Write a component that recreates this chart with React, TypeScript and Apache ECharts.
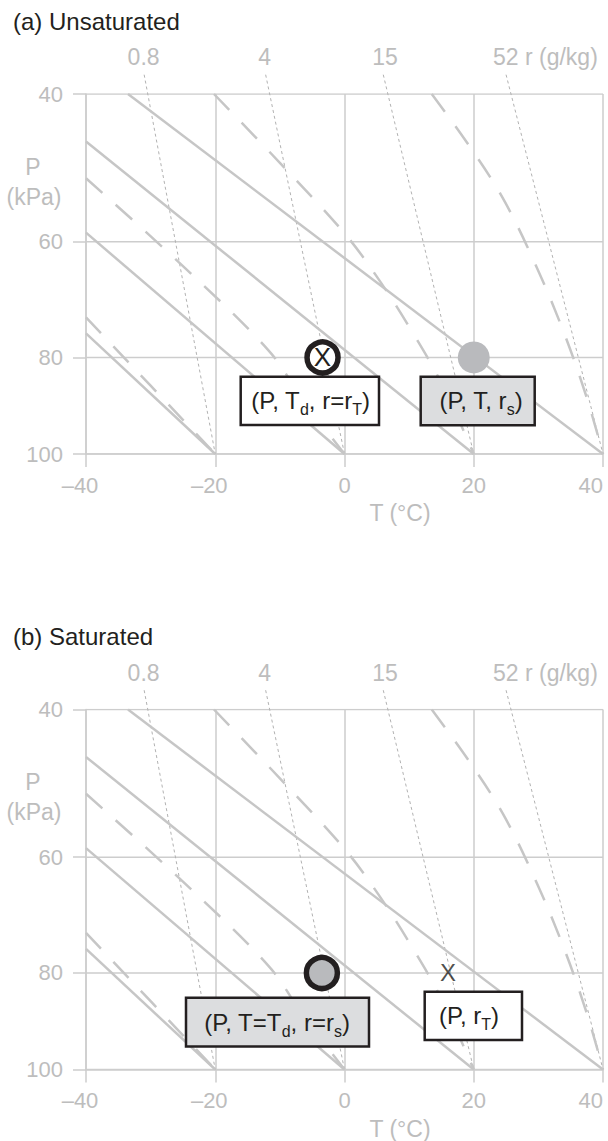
import React, { useEffect, useRef } from 'react';
import * as echarts from 'echarts';

// ---- data ----
const KAPPA = 0.286; // Stüve-type pressure axis: y ~ P^(R/cp)
const T_TICKS = [-40, -20, 0, 20, 40];
const P_TICKS = [40, 60, 80, 100];
const R_LABELS = ['0.8', '4', '15', '52'];

// dry adiabats (solid), points as [T °C, P kPa]
const DRY_ADIABATS: number[][][] = [
  [[-40, 75.5], [-20, 100]],
  [[-40, 58.6], [0, 100]],
  [[-40, 45.8], [20, 100]],
  [[-33.5, 40], [40, 100]],
];
// moist adiabats (dashed)
const MOIST_ADIABATS: number[][][] = [
  [[-40, 72.6], [-20, 100]],
  [[-40, 50.7], [-25.7, 63.2], [-11.8, 78.6], [-6.4, 88.4], [0, 100]],
  [[-20.2, 40], [-10, 48.6], [0, 58.7], [5, 65.6], [10, 74.3], [15, 85.0], [20, 100]],
  [[13.5, 40], [19, 46], [24.5, 53.5], [29.5, 63.5], [34, 75.5], [37.5, 88], [40, 100]],
];
// saturation mixing-ratio lines (dotted)
const ISOHUMES: number[][][] = [
  [[-31.0, 37.8], [-20, 100]],
  [[-12.2, 37.8], [0, 100]],
  [[6.0, 37.8], [20, 100]],
  [[25.0, 37.8], [40, 100]],
];
// markers
const A_DEWPOINT = [-3.4, 80];
const A_STATE = [20, 80];
const B_STATE = [-3.5, 80];
const B_TOTAL = [16, 80];

// ---- styles ----
const FONT = '"Liberation Sans", Arial, Helvetica, sans-serif';
const GREY_TEXT = '#bdbdbd';
const GRID_COLOR = '#cdcdcd';
const LINE_COLOR = '#c6c6c6';
const DOT_COLOR = '#b2b2b2';
const INK = '#231f20';
const FILL_GREY = '#b9babd';
const BOX_GREY = '#dcdddf';
const PANEL_TOPS = [94, 709.5];
const PANEL_SHIFT = 615.5;

const pY = (p: number) => Math.pow(p, KAPPA);

function lineSeries(gi: number, pts: number[][], style: any, extra: any = {}) {
  return {
    type: 'line',
    xAxisIndex: gi,
    yAxisIndex: gi,
    data: pts.map(([t, p]) => [t, pY(p)]),
    symbol: 'none',
    silent: true,
    lineStyle: style,
    ...extra,
  };
}

function panelSeries(gi: number) {
  const s: any[] = [];
  P_TICKS.forEach((p) => {
    s.push(lineSeries(gi, [[T_TICKS[0], p], [T_TICKS[T_TICKS.length - 1], p]], { color: GRID_COLOR, width: 1.5 }, { z: 1 }));
  });
  ISOHUMES.forEach((pts) => {
    s.push(lineSeries(gi, pts, { color: DOT_COLOR, width: 1, type: [3, 3] }, { clip: false, z: 2 }));
  });
  DRY_ADIABATS.forEach((pts) => {
    s.push(lineSeries(gi, pts, { color: LINE_COLOR, width: 2.5 }, { z: 3 }));
  });
  MOIST_ADIABATS.forEach((pts) => {
    s.push(lineSeries(gi, pts, { color: LINE_COLOR, width: 2.5, type: [22, 18] }, { z: 3, smooth: 0.35 }));
  });
  const xLabel = (size: number) => ({
    show: true, position: 'inside', formatter: 'X', fontSize: size, fontFamily: FONT, color: INK,
  });
  if (gi === 0) {
    s.push({
      type: 'scatter', xAxisIndex: gi, yAxisIndex: gi, z: 10, silent: true,
      data: [[A_STATE[0], pY(A_STATE[1])]], symbolSize: 32,
      itemStyle: { color: FILL_GREY, opacity: 1 },
    });
    s.push({
      type: 'scatter', xAxisIndex: gi, yAxisIndex: gi, z: 10, silent: true,
      data: [[A_DEWPOINT[0], pY(A_DEWPOINT[1])]], symbolSize: 31,
      itemStyle: { color: '#ffffff', borderColor: INK, borderWidth: 5.5, opacity: 1 },
      label: xLabel(26),
    });
  } else {
    s.push({
      type: 'scatter', xAxisIndex: gi, yAxisIndex: gi, z: 10, silent: true,
      data: [[B_STATE[0], pY(B_STATE[1])]], symbolSize: 31,
      itemStyle: { color: FILL_GREY, borderColor: INK, borderWidth: 5.5, opacity: 1 },
    });
    s.push({
      type: 'scatter', xAxisIndex: gi, yAxisIndex: gi, z: 10, silent: true,
      data: [[B_TOTAL[0], pY(B_TOTAL[1])]], symbolSize: 2,
      itemStyle: { color: 'rgba(0,0,0,0)' },
      label: xLabel(24),
    });
  }
  return s;
}

const greyText = (text: string, x: number, y: number, align = 'center', size = 23) => ({
  type: 'text', x, y, z: 100, silent: true,
  style: { text, fontSize: size, fontFamily: FONT, fill: GREY_TEXT, align, verticalAlign: 'middle' },
});

const subRich = {
  s: { fontSize: 16, fontFamily: FONT, fill: INK, verticalAlign: 'bottom', lineHeight: 18 },
};

function box(x: number, y: number, w: number, h: number, fill: string, text: string, tx: number) {
  return [
    {
      type: 'rect', z: 100, silent: true,
      shape: { x, y, width: w, height: h },
      style: { fill, stroke: INK, lineWidth: 2.5 },
    },
    {
      type: 'text', z: 101, silent: true, x: tx, y: y + h / 2,
      style: {
        text, fontSize: 24, fontFamily: FONT, fill: INK, align: 'center', verticalAlign: 'middle',
        lineHeight: 34, rich: subRich,
      },
    },
  ];
}

function panelGraphics(gi: number) {
  const dy = gi * PANEL_SHIFT;
  const g: any[] = [];
  g.push({
    type: 'text', x: 13, y: 21 + dy, z: 100, silent: true,
    style: { text: gi === 0 ? '(a) Unsaturated' : '(b) Saturated', fontSize: 24, fontFamily: FONT, fill: INK, align: 'left', verticalAlign: 'middle' },
  });
  g.push(greyText('P', 33, 166.5 + dy));
  g.push(greyText('(kPa)', 34, 196.5 + dy));
  g.push(greyText('T (°C)', 400, 513 + dy));
  g.push(greyText(R_LABELS[0], 143.6, 57 + dy));
  g.push(greyText(R_LABELS[1], 264.6, 57 + dy));
  g.push(greyText(R_LABELS[2], 385, 57 + dy));
  g.push(greyText(R_LABELS[3] + ' r (g/kg)', 493, 57 + dy, 'left'));
  if (gi === 0) {
    g.push(...box(240.7, 376.7, 138.3, 48.3, '#ffffff', '(P, T{s|d}, r=r{s|T})', 310.5));
    g.push(...box(420.7, 376.7, 114, 48.5, BOX_GREY, '(P, T, r{s|s})', 481));
  } else {
    g.push(...box(186, 997.7, 183, 48.8, BOX_GREY, '(P, T=T{s|d}, r=r{s|s})', 277));
    g.push(...box(424.7, 991.7, 97.3, 48.3, '#ffffff', '(P, r{s|T})', 469));
  }
  return g;
}

function buildOption() {
  const axisLineStyle = { color: GRID_COLOR, width: 1.5 };
  const labelBase = { fontSize: 22, fontFamily: FONT, color: GREY_TEXT };
  return {
    animation: false,
    backgroundColor: '#ffffff',
    grid: PANEL_TOPS.map((top) => ({ left: 86, top, width: 517, height: 360, containLabel: false })),
    xAxis: [0, 1].map((i) => ({
      type: 'value', gridIndex: i,
      min: T_TICKS[0], max: T_TICKS[T_TICKS.length - 1], interval: 20,
      axisLine: { show: true, onZero: false, lineStyle: axisLineStyle },
      axisTick: { show: true, length: 13, lineStyle: axisLineStyle },
      splitLine: { show: true, lineStyle: axisLineStyle },
      axisLabel: {
        ...labelBase, margin: 20, alignMaxLabel: 'right',
        formatter: (v: number) => (v < 0 ? `{n|–${-v}}` : String(v)),
        rich: { n: { ...labelBase, padding: [0, 12, 0, 0] } },
      },
    })),
    yAxis: [0, 1].map((i) => ({
      type: 'value', gridIndex: i, inverse: true,
      min: pY(P_TICKS[0]), max: pY(P_TICKS[P_TICKS.length - 1]),
      axisLine: { show: true, onZero: false, lineStyle: axisLineStyle },
      axisTick: { show: true, length: 13, lineStyle: axisLineStyle, customValues: P_TICKS.map(pY) },
      splitLine: { show: false },
      axisLabel: {
        ...labelBase, margin: 23,
        customValues: P_TICKS.map(pY),
        formatter: (v: number) => String(Math.round(Math.pow(v, 1 / KAPPA))),
      },
    })),
    series: [...panelSeries(0), ...panelSeries(1)],
    graphic: { elements: [...panelGraphics(0), ...panelGraphics(1)] },
  };
}

export default function App() {
  const ref = useRef<HTMLDivElement>(null);
  useEffect(() => {
    if (!ref.current) return;
    const chart = echarts.init(ref.current, null, { renderer: 'svg' });
    chart.setOption(buildOption() as any);
    return () => chart.dispose();
  }, []);
  return (
    <div
      ref={ref}
      style={{ position: 'absolute', left: 0, top: 0, width: 608, height: 1141, background: '#ffffff' }}
    />
  );
}
